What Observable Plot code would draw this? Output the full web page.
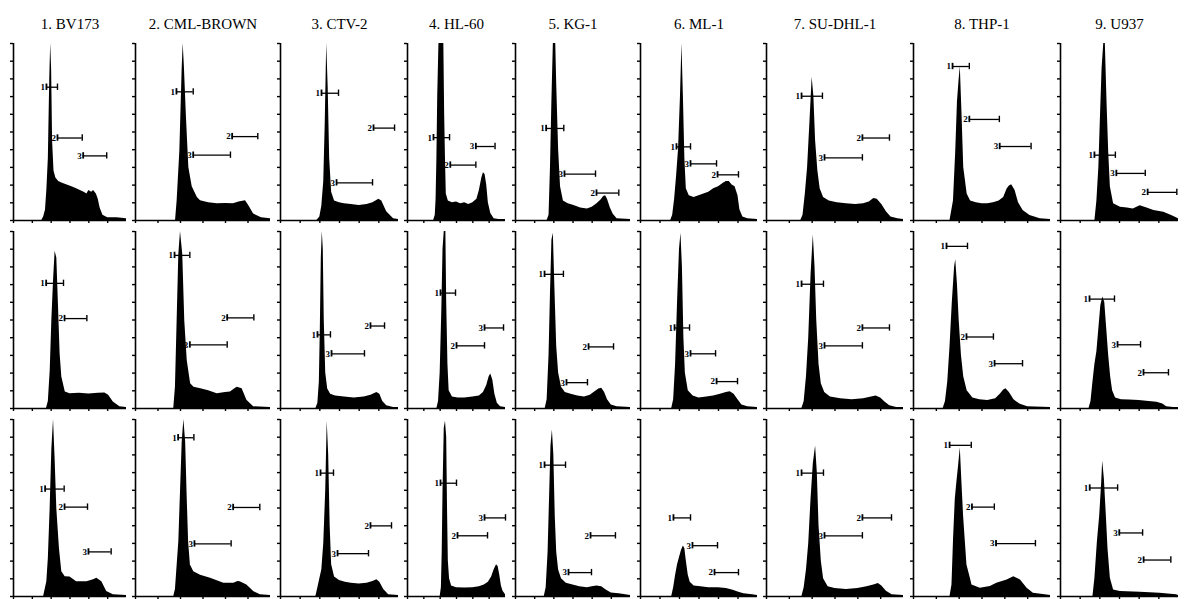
<!DOCTYPE html>
<html><head><meta charset="utf-8">
<script src="https://cdn.jsdelivr.net/npm/d3@7"></script>
<script src="https://cdn.jsdelivr.net/npm/@observablehq/plot@0.6"></script>
<style>
html,body{margin:0;padding:0;background:#fff;}
#chart{position:relative;width:1184px;height:599px;overflow:hidden;background:#fff;}
#chart .col{position:absolute;top:0;}
</style></head><body><div id="chart"></div>
<script>
const cellLines = ["1. BV173","2. CML-BROWN","3. CTV-2","4. HL-60","5. KG-1","6. ML-1","7. SU-DHL-1","8. THP-1","9. U937"];
const rows = [1, 2, 3];
const xTicks = [0, 20, 40, 60, 80, 100];
const yTicks = [0, 10, 20, 30, 40, 50, 60, 70, 80, 90, 100];

// Histogram outlines: [channel, relative count] (rows 1-3)
const BV173_1 = [[0,0],[30,0],[32,2],[34,6],[35.5,18],[37,35],[38.5,80],[39.5,100],[40.5,85],[41.5,45],[43,28],[45,24],[48,22],[52,21],[57,20],[62,19],[67,18],[71,17],[75,16],[78,15],[80,17],[83,16],[85,17],[88,15],[90,12],[92,7],[95,3],[100,1.5],[110,1.5],[120,1]];
const BV173_2 = [[0,0],[35,0],[37,4],[39,21.5],[40.7,49.5],[42.5,72],[44.2,88.8],[46,85],[47.7,59],[49.5,31],[51.3,17.8],[55,9.3],[60,8.4],[70,8.6],[80,8.2],[90,8.6],[97,8.8],[101,7.5],[106,3.7],[113,1],[120,0.5]];
const BV173_3 = [[0,0],[32,0],[35.4,8.4],[37,21.5],[38.9,49.5],[40.7,83],[42.5,100],[44.2,77.6],[46,49.5],[48.8,27],[51.3,14],[54.9,11.2],[60,11],[67,8.4],[78,8.4],[85,9.5],[88.5,10.3],[93.8,8.4],[99,2.8],[106,1],[120,0.5]];

const CMLBROWN_1 = [[0,0],[35.6,0],[37,11],[39.4,39],[41.5,86],[42.4,100],[43.5,86],[45.3,58],[47.4,30],[50.4,19],[55,13],[57.8,11.2],[65,10],[72.6,9.4],[80,9.6],[87,9.4],[92,10.5],[97.8,11.2],[101,8],[105,3.7],[112,1.5],[120,1]];
const CMLBROWN_2 = [[0,0],[34,0],[35.5,12],[37,49.5],[38.5,87],[40,100],[42,87],[43.8,49.5],[46,27],[49,14],[52,12],[58,11.2],[65,10],[72.6,8.4],[80,9],[84.4,9.3],[88,11],[90.4,12],[94.8,11.2],[99,4.7],[105,1],[120,0.5]];
const CMLBROWN_3 = [[0,0],[34,0],[35.5,4],[38.5,31],[40,59],[41.5,87],[43,100],[44.6,87],[45.8,59],[47.2,31],[48.8,17.8],[51.8,14],[57.8,12],[66.7,10.3],[78.5,7.5],[87.4,7.5],[91,8.5],[93,8.4],[99,6.5],[105,2.8],[111,1],[120,0.5]];

const CTV2_1 = [[0,0],[37,0],[40,2],[42,8],[44,22],[45.5,55],[47,100],[48.5,75],[50,35],[52,16],[55,11],[60,10],[65,9.5],[72,9],[80,8.5],[88,9],[94,10],[100,12],[103,11],[108,5],[115,1],[120,0.5]];
const CTV2_2 = [[0,0],[36,0],[38,3],[39.5,15],[40.5,45],[41.5,85],[42.5,100],[43.5,90],[44.5,50],[46,20],[48,11],[51,8],[56,7],[65,6.5],[75,6],[85,6.5],[92,7.5],[98,9],[101,8],[104,4],[108,1.5],[115,0.5],[120,0.5]];
const CTV2_3 = [[0,0],[36,0],[38,5],[40,10],[42,15],[44,30],[46,60],[47.5,99],[49,80],[50.5,40],[52,18],[55,11],[60,9],[66,8],[72,7.5],[80,7],[88,7.5],[94,8.5],[98,9.5],[101,8],[105,4],[110,1],[120,0.5]];

const HL60_1 = [[0,0],[32,0],[34,3],[35,12],[36,35],[37,70],[38.5,100],[44.5,100],[45.5,60],[46.5,35],[47.5,15],[50,11],[55,10],[60,10.5],[65,9.5],[70,10],[75,9],[80,10],[85,12],[88,17],[91,24],[93,27],[95,26],[97,20],[99,10],[102,4],[106,1],[112,0.5],[120,0.5]];
const HL60_2 = [[0,0],[36,0],[38,4],[40,20],[42,55],[43.5,90],[45,100],[47,100],[48,60],[49.5,25],[51,10],[55,6.5],[62,6],[70,6],[80,6.5],[88,7],[93,9],[97,13],[100,18],[102,19.5],[104.5,16],[107,8],[110,3],[114,1],[120,0.5]];
const HL60_3 = [[0,0],[40,0],[41.5,5],[42.5,25],[43.5,60],[45,95],[46.5,99],[48,90],[49,50],[50,20],[51.5,10],[54,6],[60,5],[70,4.8],[80,5],[88,5.5],[94,6.5],[99,8],[103,11],[106,15],[109,18],[111,17],[113,12],[115,6],[117,3],[120,1]];

const KG1_1 = [[0,0],[33,0],[35,3],[36.5,30],[38,68],[39.5,100],[42,100],[43,77],[45,40],[47,19],[50,11],[55,9.5],[61,8.5],[68,7],[75,6.5],[80,7.5],[85,9.5],[89,11.5],[92,13.5],[94,14],[96,12],[99,7],[102,3.5],[106,1],[120,0.5]];
const KG1_2 = [[0,0],[31,0],[33,5],[35,30],[36.5,65],[38,95],[39.5,99],[41,70],[43,35],[45,20],[48,12],[52,9],[58,8],[65,7],[72,6.5],[78,7.5],[83,9.5],[87,11],[90,11.5],[93,9],[96,5],[100,2],[106,1],[120,0.5]];
const KG1_3 = [[0,0],[30,0],[32,5],[34,25],[35.5,55],[37,85],[38.5,94],[40,80],[41.5,45],[43,25],[45,15],[48,10],[53,7.5],[60,6.5],[67,5.5],[75,5],[80,5.5],[85,6],[90,5.5],[95,3.5],[100,2],[108,1.5],[115,1],[120,0.5]];

const ML1_1 = [[0,0],[31,0],[33,3],[35,12],[37,25],[39,40],[41,70],[42.5,100],[44,70],[45.5,35],[47,18],[50,14],[55,13],[60,14],[65,15],[70,16],[75,18],[80,19],[85,21],[88,22],[91,22],[94,20],[97,19],[100,14],[102,6],[105,2],[110,1],[120,0.5]];
const ML1_2 = [[0,0],[32,0],[34,5],[36,25],[38,60],[40,90],[41.5,99],[43,80],[44.5,40],[46,20],[49,10],[54,7],[60,6],[68,6.5],[75,7],[82,8],[88,9],[92,9.5],[96,8],[100,5],[104,2],[110,1],[120,0.5]];
const ML1_3 = [[0,0],[32,0],[34,5],[36,12],[38,18],[40,22],[42,26],[44,28.5],[45.5,27],[47,20],[49,12],[51,8],[55,6],[62,5.5],[70,5],[80,5],[88,4.5],[95,3.5],[100,2.5],[106,1.5],[115,1],[120,0.5]];

const SUDHL1_1 = [[0,0],[30,0],[32,3],[34,15],[36,30],[38,55],[40,81],[41.5,70],[43,45],[45,28],[47,18],[50,13],[55,11],[62,10],[70,9.5],[78,9],[85,9.5],[90,10.5],[94,12.5],[97,12],[101,9],[105,5],[109,2],[115,1],[120,0.5]];
const SUDHL1_2 = [[0,0],[31,0],[33,4],[35,18],[37,40],[39,75],[41,98],[42.5,80],[44,50],[46,25],[48,14],[51,9],[56,6.5],[65,5.5],[75,5],[85,5.5],[92,6.5],[96,7],[100,6],[104,3.5],[108,1.5],[114,0.5],[120,0.5]];
const SUDHL1_3 = [[0,0],[31,0],[33,5],[35,15],[37,30],[39,55],[41,75],[43,85],[44.5,70],[46,40],[48,20],[50,10],[54,5.5],[60,4.5],[70,4],[80,4.5],[88,5.5],[94,6.5],[98,7.3],[101,6],[105,3],[110,1],[120,0.5]];

const THP1_1 = [[0,0],[32,0],[35,11],[37,39],[38.5,67],[40,80],[41,87],[42.5,60],[44,30],[47,15],[50,11],[55,10],[60,9.5],[65,9.5],[70,10],[75,11],[79,13],[82,17.8],[84,19.5],[86,20.2],[89,17],[92,10],[96,5.6],[102,2.8],[111,1],[120,0.5]];
const THP1_2 = [[0,0],[26,0],[28,4],[30,15],[32,35],[34,60],[36,80],[37,84],[38.5,70],[40,50],[42,30],[44,18],[47,10],[52,6],[58,5],[65,4.5],[72,5.5],[76,8],[79,10.5],[81,11.2],[84,9],[88,5],[93,2.5],[100,1],[120,0.5]];
const THP1_3 = [[0,0],[32,0],[33.7,6.5],[35.1,32.7],[36.6,55],[38,64.5],[39.5,73.8],[41,84],[42.4,64.5],[43.9,45],[46.8,17.8],[49.8,10.3],[51.2,6.5],[58.5,4.7],[67.3,5.6],[73,7.5],[82,9.3],[87.8,11.2],[93.7,9.3],[99.5,4.7],[105,1.9],[117,0.8],[120,0.5]];

const U937_1 = [[0,0],[35,0],[37,11],[39,30],[40.6,58],[42.3,86],[44,100],[45.6,100],[47.3,67],[49,39],[50.7,19],[54,9.4],[61,7.5],[68,7],[74,6.5],[81,8.4],[88,7],[95,5.6],[105,4.7],[113,2.8],[120,1]];
const U937_2 = [[0,0],[29,0],[31,4],[33,15],[35,25],[37,32],[39,45],[41,58],[43,63],[45,60],[47,45],[49,30],[51,18],[53,10],[56,6],[62,5],[70,4.8],[80,4.5],[90,4],[98,3.5],[104,2.5],[108,1],[115,0.5],[120,0.5]];
const U937_3 = [[0,0],[33,0],[35,10.3],[37.5,30.8],[39.9,45.8],[41.9,64.5],[42.9,76.6],[44.6,66.4],[46.6,45.8],[48.3,27],[50.7,10.3],[54,3.7],[60.8,2.8],[81,2.4],[101,1.9],[118,1],[120,0.5]];

// Gate markers: [row, label, start, end, level]
const BV173_gates = [[1,"1",35,46.7,75.3],[1,"2",46.7,73,46.6],[1,"3",74,99,36.5],[2,"1",34.7,53.1,70.7],[2,"2",54.2,77.9,50.8],[3,"1",33.6,53.8,60.7],[3,"2",54.2,78.6,50.5],[3,"3",79.6,103.7,25.2]];
const CMLBROWN_gates = [[1,"1",36.4,51.3,72.7],[1,"2",85.9,108.7,47.4],[1,"3",51.3,84.4,36.9],[2,"1",34.7,48.3,86.5],[2,"2",81.5,105.2,51.2],[2,"3",48.3,81.5,35.9],[3,"1",37.9,51.9,89.7],[3,"2",86.8,110.5,50.3],[3,"3",52.4,85,29.7]];
const CTV2_gates = [[1,"1",41.7,59,71.9],[1,"2",94.6,116,52.2],[1,"3",57,93.6,21.3],[2,"1",37.6,50.8,41.6],[2,"2",91.5,105.8,46.6],[2,"3",51.9,85.4,30.9],[3,"1",40.7,53.9,69.7],[3,"2",91.5,112.9,39.9],[3,"3",58,89.5,24.2]];
const HL60_gates = [[1,"1",31.8,51.5,46.8],[1,"3",83.7,107.2,41.8],[1,"2",52.4,83.7,31.3],[2,"1",40.4,58.8,65.2],[2,"3",94.3,117.6,45.5],[2,"2",60,94.3,35.4],[3,"1",40.4,60,64],[3,"3",94.3,120,44.4],[3,"2",61.2,98,34.3]];
const KG1_gates = [[1,"1",32,50.4,52],[1,"3",51.1,83.5,26.2],[1,"2",84.5,107.8,15.5],[2,"1",30.3,50,75.8],[2,"2",76.2,102.3,34.8],[2,"3",53.2,75.1,14.6],[3,"1",30.3,52.2,74.2],[3,"2",78.3,104.3,34.3],[3,"3",55.3,79.3,13.5]];
const ML1_gates = [[1,"1",36.9,51.3,41.6],[1,"3",51.3,78,32],[1,"2",79,100.5,25.8],[2,"1",34.9,50.3,45.5],[2,"3",51.3,77,30.9],[2,"2",78,99.5,15.2],[3,"1",33.8,51.3,44.4],[3,"3",53.3,79,28.7],[3,"2",75.9,100.5,13.5]];
const SUDHL1_gates = [[1,"1",30.7,49,70.2],[1,"2",84,107.7,46.6],[1,"3",50.8,84,35.4],[2,"1",30.7,49.9,70.2],[2,"2",84,107.7,45.5],[2,"3",50.8,84,35.4],[3,"1",30.7,49.9,69.7],[3,"2",84,109.5,44.4],[3,"3",50.8,84,34.3]];
const THP1_gates = [[1,"1",34.2,48.9,87],[1,"2",48.9,75.2,57.1],[1,"3",75.5,103,41.8],[2,"1",28.9,47.3,91.6],[2,"2",46.4,70,40.4],[2,"3",71,95.5,25.3],[3,"1",31.6,50.6,85.4],[3,"2",51.2,70.8,50.5],[3,"3",72.3,106.8,29.9]];
const U937_gates = [[1,"1",34.5,55.8,36.9],[1,"3",56.8,86.2,26.6],[1,"2",88.6,118.3,15.9],[2,"1",29.5,54.9,61.8],[2,"3",58,81.4,36],[2,"2",84.4,109.8,20.2],[3,"1",29.7,58.1,61.3],[3,"3",59.8,83.5,35.9],[3,"2",84.5,112.2,20.6]];

const histSets = [
  [BV173_1, BV173_2, BV173_3], [CMLBROWN_1, CMLBROWN_2, CMLBROWN_3], [CTV2_1, CTV2_2, CTV2_3],
  [HL60_1, HL60_2, HL60_3], [KG1_1, KG1_2, KG1_3], [ML1_1, ML1_2, ML1_3],
  [SUDHL1_1, SUDHL1_2, SUDHL1_3], [THP1_1, THP1_2, THP1_3], [U937_1, U937_2, U937_3]
];
const gateSets = [BV173_gates, CMLBROWN_gates, CTV2_gates, HL60_gates, KG1_gates, ML1_gates, SUDHL1_gates, THP1_gates, U937_gates];

// Layout (pixels) of each column of panels
const panelLeft = [13, 135, 280, 407, 515, 640, 766, 913, 1060];
const panelWidth = [113, 135, 118, 98, 115, 117, 137, 137, 118];
const mL = 6, mR = 4;
const capHalf = 1.8;

const chart = document.getElementById("chart");
cellLines.forEach((name, i) => {
  const hist = [];
  histSets[i].forEach((pts, r) => pts.forEach(([x, y]) => hist.push({line: name, row: rows[r], x, y})));
  const gates = gateSets[i].map(([row, label, x1, x2, y]) => ({line: name, row, label, x1, x2, y}));
  const W = panelWidth[i];
  const plot = Plot.plot({
    width: W + mL + mR,
    height: 599,
    marginLeft: mL, marginRight: mR, marginTop: 42, marginBottom: 1,
    style: {background: "transparent", overflow: "visible", fontFamily: "Liberation Serif"},
    x: {domain: [0, 120]},
    y: {domain: [0, 100]},
    fx: {domain: [name], padding: 0},
    fy: {domain: rows, padding: 0.058, axis: null},
    marks: [
      Plot.areaY(hist, {x: "x", y: "y", fx: "line", fy: "row", fill: "black", curve: "linear"}),
      Plot.ruleX([0], {stroke: "black", strokeWidth: 1.6}),
      Plot.ruleY([0], {stroke: "black", strokeWidth: 1.6}),
      Plot.axisX({ticks: xTicks, tickSize: 3, fill: "none", stroke: "black", strokeWidth: 1.4, facetAnchor: null, label: null}),
      Plot.axisY({ticks: yTicks, tickSize: 3, fill: "none", stroke: "black", strokeWidth: 1.4, facetAnchor: null, label: null}),
      Plot.axisFx({anchor: "top", tickSize: 0, tickPadding: 15, fontSize: 15, fontFamily: "Liberation Serif", fill: "black", label: null}),
      Plot.ruleY(gates, {fx: "line", fy: "row", y: "y", x1: "x1", x2: "x2", stroke: "black", strokeWidth: 1.3}),
      Plot.ruleX(gates, {fx: "line", fy: "row", x: "x1", y1: d => d.y - capHalf, y2: d => d.y + capHalf, stroke: "black", strokeWidth: 1.8}),
      Plot.ruleX(gates, {fx: "line", fy: "row", x: "x2", y1: d => d.y - capHalf, y2: d => d.y + capHalf, stroke: "black", strokeWidth: 1.4}),
      Plot.text(gates, {fx: "line", fy: "row", x: "x1", y: "y", text: "label", textAnchor: "end", dx: -1.5, fontSize: 9, fontWeight: "bold", fontFamily: "Liberation Serif", fill: "black"})
    ]
  });
  const div = document.createElement("div");
  div.className = "col";
  div.style.left = (panelLeft[i] - mL) + "px";
  div.style.width = (W + mL + mR) + "px";
  div.appendChild(plot);
  chart.appendChild(div);
});
</script>
</body></html>
